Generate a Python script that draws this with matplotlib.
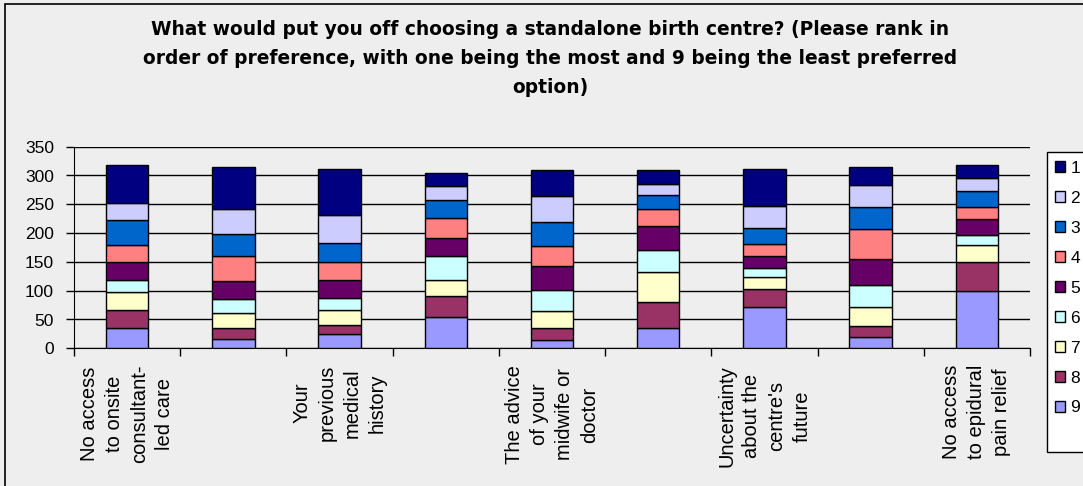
import matplotlib
matplotlib.use("Agg")
import matplotlib.pyplot as plt
from matplotlib.patches import Rectangle
import numpy as np

plt.rcParams['font.family'] = ['Liberation Sans', 'DejaVu Sans']

categories = [
    "No access\nto onsite\nconsultant-\nled care",
    "",
    "Your\nprevious\nmedical\nhistory",
    "",
    "The advice\nof your\nmidwife or\ndoctor",
    "",
    "Uncertainty\nabout the\ncentre's\nfuture",
    "",
    "No access\nto epidural\npain relief",
]

series_names = ["1", "2", "3", "4", "5", "6", "7", "8", "9"]

rank1 = [65, 73, 80, 23, 44, 23, 64, 31, 23]
rank2 = [31, 43, 49, 24, 45, 20, 39, 39, 22]
rank3 = [43, 39, 33, 31, 43, 24, 27, 38, 27]
rank4 = [30, 44, 31, 36, 34, 30, 20, 52, 21]
rank5 = [30, 31, 31, 31, 42, 41, 21, 45, 29]
rank6 = [22, 24, 21, 41, 37, 39, 16, 38, 16]
rank7 = [31, 25, 25, 28, 28, 52, 21, 34, 31]
rank8 = [30, 20, 17, 36, 22, 44, 31, 18, 49]
rank9 = [36, 16, 24, 55, 14, 36, 72, 20, 100]

title = ("What would put you off choosing a standalone birth centre? (Please rank in\n"
         "order of preference, with one being the most and 9 being the least preferred\n"
         "option)")

colors = {
    "1": "#000080", "2": "#CCCCFF", "3": "#0066CC", "4": "#FF8080",
    "5": "#660066", "6": "#CCFFFF", "7": "#FFFFCC", "8": "#993366",
    "9": "#9999FF",
}

values = {"1": rank1, "2": rank2, "3": rank3, "4": rank4, "5": rank5,
          "6": rank6, "7": rank7, "8": rank8, "9": rank9}

W, H = 1083, 486
bg = "#EEEEEE"
fig = plt.figure(figsize=(W/100, H/100), dpi=100, facecolor=bg)
ax = fig.add_axes([74/W, 1-348.3/H, (1030-74)/W, (348.3-146.7)/H])
ax.set_facecolor(bg)

x = np.arange(len(categories))
bottom = np.zeros(len(categories))
handles = {}
for name in reversed(series_names):
    v = np.array(values[name], dtype=float)
    b = ax.bar(x, v, width=0.4, bottom=bottom, color=colors[name],
               edgecolor="black", linewidth=1.0, zorder=3, label=name)
    handles[name] = b
    bottom += v

ax.set_ylim(0, 350)
ax.set_xlim(-0.5, len(categories) - 0.5)
ax.set_yticks(np.arange(0, 351, 50))
ax.yaxis.grid(True, color="black", linewidth=1.0, zorder=0)
ax.set_axisbelow(True)
for s in ["top", "right"]:
    ax.spines[s].set_visible(False)
ax.spines["left"].set_color("black")
ax.spines["bottom"].set_color("black")
ax.tick_params(axis="y", length=6, width=1, labelsize=12.5, pad=8.5)

ax.set_xticks(x)
ax.set_xticklabels(categories, rotation=90, fontsize=14.5, ha="center",
                   va="top", multialignment="center", linespacing=1.4)
ax.tick_params(axis="x", which="major", length=0, pad=12)
ax.set_xticks(np.arange(-0.5, len(categories), 1.0), minor=True)
ax.tick_params(axis="x", which="minor", length=6, width=1)

fig.text(550/W, 1-58.5/H, title, ha="center", va="center", fontsize=13.4,
         fontweight="bold", family="DejaVu Sans", linespacing=1.68)

# legend frame (extends past right edge, as in the reference)
fig.patches.append(Rectangle((1047/W, 1-452/H), 0.2, 300/H, transform=fig.transFigure,
                             facecolor="white", edgecolor="black", linewidth=1.0, zorder=0))
leg = fig.legend([handles[n] for n in series_names], series_names,
                 loc="upper left", bbox_to_anchor=(1055/W, 1-161/H),
                 frameon=False, fontsize=12.5, handlelength=0.58, handleheight=0.58,
                 labelspacing=0.86, handletextpad=0.3, borderpad=0,
                 borderaxespad=0)

fig.patches.append(Rectangle((5/W, -0.1), 1.2, 1.1 - 3.5/H, transform=fig.transFigure,
                             fill=False, edgecolor="black", linewidth=1.2))

fig.savefig("out.png", dpi=100, facecolor=bg)
